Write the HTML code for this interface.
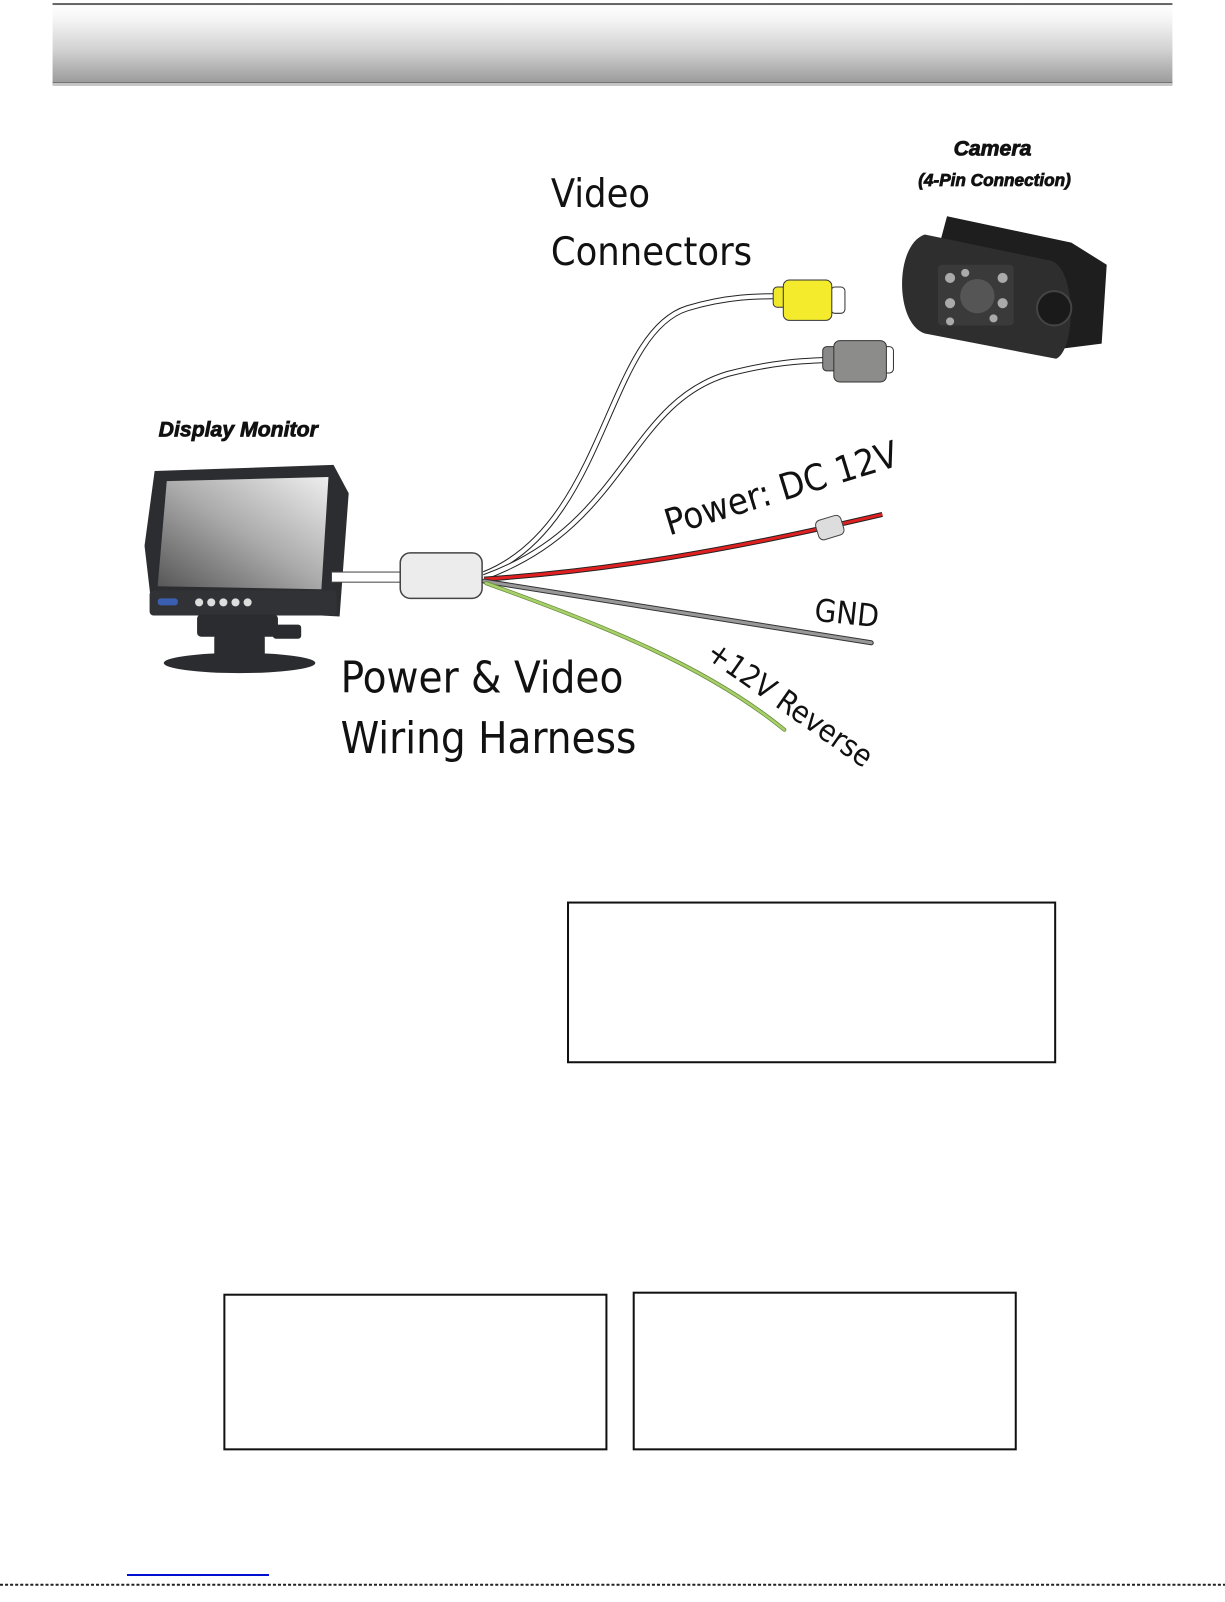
<!DOCTYPE html>
<html><head><meta charset="utf-8"><style>
html,body{margin:0;padding:0;background:#fff;}
body{width:1225px;height:1585px;position:relative;overflow:hidden;font-family:"Liberation Sans",sans-serif;}
#w{position:absolute;left:0;top:0;width:1225px;height:1585px;transform:scale(1.0107);transform-origin:0 0;}
.hdr{position:absolute;left:52px;top:3px;width:1108px;height:76px;border-top:2px solid #666;border-bottom:3px solid #666;background:linear-gradient(#fff,#f4f4f4 20%,#d0d0d0 60%,#9c9c9c);}
.hdr2{position:absolute;left:52px;top:82px;width:1108px;height:3px;background:#c4c4c4;}
.box{position:absolute;border:2px solid #111;box-sizing:border-box;}
</style></head><body>
<div id="w">
<div class="hdr"></div><div class="hdr2"></div>
<svg width="1225" height="1585" style="position:absolute;left:0;top:0">
<defs>
<linearGradient id="scr" x1="0" y1="1" x2="1" y2="0"><stop offset="0" stop-color="#555"/><stop offset="0.5" stop-color="#aaa"/><stop offset="1" stop-color="#eee"/></linearGradient>
</defs>
<!-- monitor -->
<polygon points="153,466 330,460 345,488 336,610 150,600 143,540" fill="#2b2d30"/>
<polygon points="165,476 325,472 318,583 156,580" fill="url(#scr)"/>
<rect x="148" y="584" width="185" height="25" rx="4" fill="#303236"/>
<rect x="156" y="592" width="20" height="7" rx="3" fill="#3a5fb0"/>
<g fill="#ddd"><circle cx="197" cy="596" r="4"/><circle cx="209" cy="596" r="4"/><circle cx="221" cy="596" r="4"/><circle cx="233" cy="596" r="4"/><circle cx="245" cy="596" r="4"/></g>
<rect x="195" y="608" width="80" height="22" rx="4" fill="#2a2c2f"/>
<rect x="270" y="618" width="28" height="14" rx="3" fill="#2a2c2f"/>
<rect x="212" y="628" width="50" height="22" rx="3" fill="#2a2c2f"/>
<ellipse cx="237" cy="656" rx="75" ry="10" fill="#2a2c2f"/>
<!-- white cable -->
<rect x="328" y="566" width="70" height="10" fill="#fff" stroke="#444" stroke-width="1"/>
<rect x="396" y="547" width="81" height="45" rx="10" fill="#ececec" stroke="#444" stroke-width="1.5"/>
<!-- video wires -->
<path d="M479 568 C600 520,600 330,680 305 C720 293,750 293,775 293" fill="none" stroke="#222" stroke-width="6"/>
<path d="M479 568 C600 520,600 330,680 305 C720 293,750 293,775 293" fill="none" stroke="#fff" stroke-width="4"/>
<path d="M479 571 C620 520,620 400,720 370 C770 357,800 357,823 356" fill="none" stroke="#222" stroke-width="6"/>
<path d="M479 571 C620 520,620 400,720 370 C770 357,800 357,823 356" fill="none" stroke="#fff" stroke-width="4"/>
<rect x="822" y="284" width="14" height="26" rx="4" fill="#fff" stroke="#333"/>
<rect x="765" y="284" width="14" height="20" rx="4" fill="#f0e82a" stroke="#333"/>
<rect x="775" y="277" width="48" height="40" rx="6" fill="#f3eb2c" stroke="#333"/>
<rect x="872" y="343" width="12" height="26" rx="4" fill="#fff" stroke="#333"/>
<rect x="814" y="343" width="14" height="24" rx="4" fill="#888" stroke="#333"/>
<rect x="825" y="337" width="52" height="41" rx="6" fill="#8c8c8a" stroke="#333"/>
<!-- red -->
<path d="M479 573 C600 565,720 545,873 509" fill="none" stroke="#222" stroke-width="5"/>
<path d="M479 573 C600 565,720 545,873 509" fill="none" stroke="#e02020" stroke-width="3"/>
<rect x="808" y="512" width="26" height="20" rx="5" fill="#ddd" stroke="#444" transform="rotate(-17 821 522)"/>
<!-- gnd -->
<path d="M479 575 L862 636" fill="none" stroke="#333" stroke-width="5" stroke-linecap="round"/>
<path d="M479 575 L862 636" fill="none" stroke="#999" stroke-width="3" stroke-linecap="round"/>
<!-- green -->
<path d="M481 577 C600 620,700 660,776 722" fill="none" stroke="#6a8a3a" stroke-width="4" stroke-linecap="round"/>
<path d="M481 577 C600 620,700 660,776 722" fill="none" stroke="#a6d06a" stroke-width="2.5" stroke-linecap="round"/>
<!-- camera -->
<polygon points="937,214 1060,240 1095,262 1090,340 1050,345 1040,280 930,240" fill="#1e1e1e"/>
<path d="M915 232 L1040 258 C1065 266,1065 345,1045 355 L915 330 C885 320,885 242,915 232 Z" fill="#2e2e2e"/>
<rect x="928" y="262" width="75" height="60" rx="4" fill="#3a3a3a"/>
<circle cx="967" cy="293" r="17" fill="#555"/>
<g fill="#aaa"><circle cx="940" cy="275" r="5"/><circle cx="940" cy="300" r="5"/><circle cx="992" cy="275" r="5"/><circle cx="992" cy="300" r="5"/><circle cx="955" cy="270" r="4"/><circle cx="983" cy="315" r="4"/><circle cx="940" cy="318" r="4"/></g>
<circle cx="1043" cy="305" r="17" fill="#1a1a1a" stroke="#444" stroke-width="2"/>
<!-- labels -->
<g font-family="'DejaVu Sans Condensed','Liberation Sans Narrow','Liberation Sans',sans-serif" fill="#111">
<text x="545" y="205" font-size="39">Video</text>
<text x="545" y="262" font-size="39">Connectors</text>
<text x="337" y="685" font-size="43">Power &amp; Video</text>
<text x="337" y="745" font-size="43">Wiring Harness</text>
<text x="0" y="0" font-size="36" transform="translate(662,530) rotate(-17)">Power: DC 12V</text>
<text x="0" y="0" font-size="31" transform="translate(805,614) rotate(6)">GND</text>
<text x="0" y="0" font-size="30" transform="translate(697,650) rotate(35)">+12V Reverse</text>
</g>
<g font-family="'Liberation Sans',sans-serif" font-weight="bold" font-style="italic" fill="#111" stroke="#111" stroke-width="0.8">
<text x="982" y="154" font-size="21" text-anchor="middle">Camera</text>
<text x="984" y="184" font-size="17" text-anchor="middle">(4-Pin Connection)</text>
<text x="157" y="432" font-size="21">Display Monitor</text>
</g>
<line x1="0" y1="1568" x2="1225" y2="1568" stroke="#222" stroke-width="2" stroke-dasharray="3 2"/>
</svg>
<div class="box" style="left:561px;top:892px;width:484px;height:160px"></div>
<div class="box" style="left:221px;top:1280px;width:380px;height:155px"></div>
<div class="box" style="left:626px;top:1278px;width:380px;height:157px"></div>
</div>
<svg width="1225" height="1585" style="position:absolute;left:0;top:0">
<line x1="127" y1="1575" x2="269" y2="1575" stroke="#0010d0" stroke-width="2"/>
</svg>
</body></html>
